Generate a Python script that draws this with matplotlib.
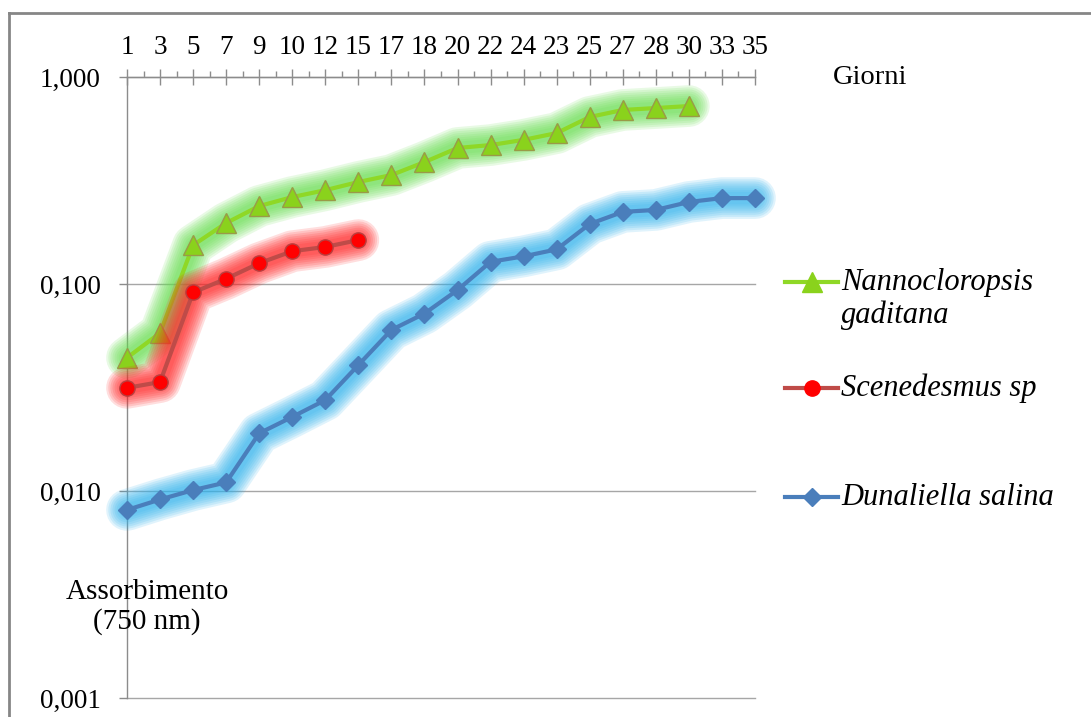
import matplotlib
matplotlib.use("Agg")
import matplotlib.pyplot as plt
import numpy as np
from matplotlib.lines import Line2D
from matplotlib.ticker import FixedLocator, FuncFormatter, NullLocator

W, H = 1091, 717

days = ["1", "3", "5", "7", "9", "10", "12", "15", "17", "18",
        "20", "22", "24", "23", "25", "27", "28", "30", "33", "35"]

nanno = [0.044, 0.058, 0.154, 0.197, 0.238, 0.263, 0.284, 0.311, 0.336,
         0.388, 0.454, 0.469, 0.497, 0.536, 0.641, 0.693, 0.708, 0.724]
scened = [0.0315, 0.0336, 0.091, 0.106, 0.126, 0.144, 0.151, 0.163]
dunal = [0.0081, 0.0091, 0.0101, 0.011, 0.019, 0.0228, 0.0275, 0.0406,
         0.060, 0.072, 0.0935, 0.128, 0.136, 0.147, 0.195, 0.223, 0.228,
         0.249, 0.26, 0.26]

# name lines, values, line colour, marker, marker face, marker edge, glow colour, marker size
series = [
    (["Nannocloropsis", "gaditana"], nanno, "#8fd826", "^", "#8ad21c", "#9a9a48", "#66de50", 14),
    (["Scenedesmus sp"], scened, "#bf4b48", "o", "#ff0000", "#b84040", "#ff2222", 11),
    (["Dunaliella salina"], dunal, "#4a7ebb", "D", "#4a7ebb", "#4a7ebb", "#2fb3ee", 9.5),
]

plt.rcParams["font.family"] = ["Liberation Serif", "DejaVu Serif"]

fig = plt.figure(figsize=(W / 100, H / 100), dpi=100)


def fpx(x, y):
    return x / W, 1 - y / H


ax = fig.add_axes([127 / W, 19 / H, 628 / W, 621 / H])
ax.set_yscale("log")
ax.set_ylim(0.001, 1)
ax.set_xlim(0, len(days) - 1)

for i, (name, vals, lc, mk, mfc, mec, gc, ms) in enumerate(series):
    x = np.arange(len(vals))
    z = 3 + i * 2
    # soft glow built from stacked wide strokes
    for lw in [30, 27, 24, 21, 18, 15, 12, 9]:
        ax.plot(x, vals, color=gc, lw=lw, alpha=0.15, solid_capstyle="round",
                solid_joinstyle="round", zorder=z, clip_on=False)
    ax.plot(x, vals, color=lc, lw=3, marker=mk, ms=ms, mfc=mfc, mec=mec,
            mew=1.0, zorder=z + 1, clip_on=False)

gray = "#8c8c8c"
for s in ["right", "bottom"]:
    ax.spines[s].set_visible(False)
for s in ["left", "top"]:
    ax.spines[s].set_color(gray)
    ax.spines[s].set_linewidth(1)

ax.xaxis.set_ticks_position("top")
ax.set_xticks(np.arange(len(days)))
ax.set_xticklabels(days)
ax.xaxis.set_minor_locator(FixedLocator(np.arange(0.5, len(days) - 1, 1)))
ax.tick_params(axis="x", which="major", direction="inout", length=12, width=1,
               color=gray, labelsize=19.5, pad=6)
ax.tick_params(axis="x", which="minor", direction="out", length=4, width=1, color=gray)

ax.yaxis.set_major_locator(FixedLocator([0.001, 0.01, 0.1, 1]))
ax.yaxis.set_minor_locator(NullLocator())
ax.yaxis.set_major_formatter(FuncFormatter(lambda v, p: f"{v:.3f}".replace(".", ",")))
ax.tick_params(axis="y", direction="out", length=6, width=1, color=gray,
               labelsize=19.5, pad=13)
ax.grid(axis="y", color="#a6a6a6", lw=1)
for gl in ax.get_ygridlines():
    gl.set_clip_on(False)
ax.set_axisbelow(True)

fig.text(*fpx(870, 77), "Giorni", fontsize=20.5, ha="center", va="center")
fig.text(*fpx(147, 607), "Assorbimento\n(750 nm)", fontsize=21, ha="center",
         va="center", linespacing=1.12)

# legend drawn by hand to match spacing
leg_y = [282, 388, 497]
for (name, vals, lc, mk, mfc, mec, gc, ms), y in zip(series, leg_y):
    x0, y0 = fpx(785, y)
    x1, _ = fpx(838, y)
    fig.add_artist(Line2D([x0, x1], [y0, y0], color=lc, lw=3, transform=fig.transFigure))
    fig.add_artist(Line2D([(x0 + x1) / 2], [y0], marker=mk, ms=ms, mfc=mfc, mec=mfc,
                          mew=1.0, color=lc, transform=fig.transFigure))
    for k, line in enumerate(name):
        tx, ty = fpx(841, y + 8 + 33 * k)
        fig.text(tx, ty, line, fontsize=22, style="italic", ha="left", va="baseline")

# outer chart frame (only left and top edges fall inside the image)
fx, fy = fpx(9, 13)
fig.add_artist(Line2D([fx, fx], [0, fy], color="#868686", lw=2, transform=fig.transFigure))
fig.add_artist(Line2D([fx, 1], [fy, fy], color="#868686", lw=2, transform=fig.transFigure))

fig.savefig("out.png", dpi=100, facecolor="white")
